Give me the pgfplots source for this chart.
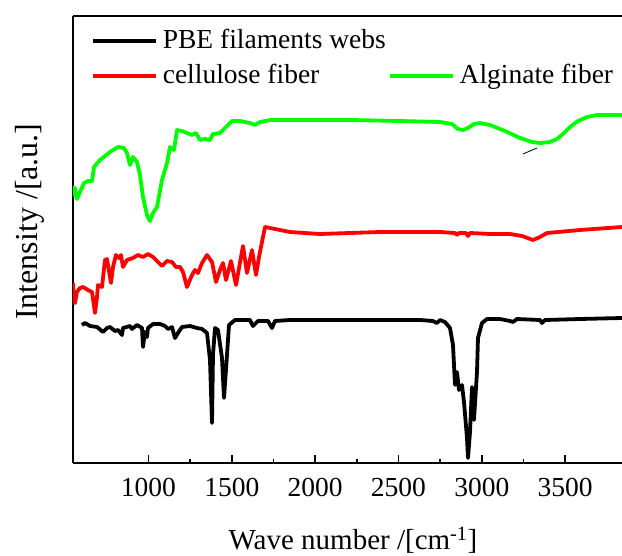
\documentclass[border=0pt]{standalone}
\usepackage{fontspec}
\setmainfont{Liberation Serif}
\usepackage{pgfplots}
\pgfplotsset{compat=1.18}
\definecolor{pure green}{RGB}{0,255,0}
\definecolor{pure red}{RGB}{255,0,0}
\begin{document}
\fontsize{27}{32}\selectfont
\begin{tikzpicture}
\useasboundingbox (-73pt,-92pt) rectangle (549pt,463pt);
\begin{axis}[
  at={(0pt,0pt)}, anchor=south west,
  scale only axis, width=549pt, height=447pt,
  xmin=547, xmax=3841, ymin=0, ymax=447,
  axis x line*=box, axis y line*=left,
  axis line style={-, line width=1.5pt},
  xtick={1000,1500,2000,2500,3000,3500},
  minor x tick num=1,
  xtick pos=left,
  ytick=\empty,
  tick align=inside,
  major tick length=8pt, minor tick length=4pt,
  every tick/.style={line width=1.5pt, black},
  /pgf/number format/assume math mode=true,
  /pgf/number format/1000 sep={},
  xticklabel style={font=\fontsize{27.5}{32}\selectfont, yshift=-6pt},
  xlabel={Wave number /[cm\textsuperscript{-1}]},
  ylabel={Intensity /[a.u.]},
  xlabel style={font=\fontsize{29}{34}\selectfont, at={(axis description cs:0.51,-0.172)}, anchor=center},
  ylabel style={font=\fontsize{32}{36}\selectfont, at={(axis description cs:-0.078,0.54)}, anchor=center},
  legend columns=2,
  legend cell align=left,
  legend image code/.code={\draw[#1] (0pt,0pt) -- (63pt,0pt);},
  legend style={draw=none, fill=none, at={(rel axis cs:0.027,0.982)}, anchor=north west,
    font=\fontsize{27.5}{32}\selectfont,
    nodes={inner sep=2pt, text height=20pt, text depth=6pt},
    row sep=5pt,
    /tikz/every odd column/.append style={column sep=3pt},
    /tikz/every even column/.append style={column sep=0pt}},
]
\addplot[black, line width=3.8pt, line join=round] table {
601 138
619 140
649 137
691 136
727 131
751 135
769 136
799 132
817 133
841 128
847 135
889 137
901 134
931 138
961 135
967 116
979 131
991 126
997 135
1027 139
1069 139
1099 137
1117 134
1141 136
1159 125
1177 130
1201 136
1249 137
1291 135
1321 134
1351 130
1369 103
1381 40
1387 108
1399 135
1417 133
1441 105
1453 65
1471 108
1483 138
1519 143
1609 143
1627 137
1657 142
1717 142
1741 135
1759 142
1849 143
2209 143
2629 143
2707 142
2731 140
2749 143
2779 141
2809 135
2827 118
2839 78
2851 91
2863 73
2881 78
2893 61
2911 25
2917 5
2929 31
2941 76
2953 43
2971 91
2977 125
3001 140
3031 144
3109 144
3169 142
3187 141
3211 144
3349 143
3361 140
3379 143
3589 144
3841 145
};
\addlegendentry{PBE filaments webs}
\addlegendimage{empty legend}
\addlegendentry{}
\addplot[pure red, line width=3.8pt, line join=round] table {
547 180
553 163
559 160
571 171
589 175
607 176
637 173
661 171
679 150
691 166
697 178
721 176
739 203
751 204
775 180
787 196
805 208
823 205
835 208
847 196
871 203
907 205
937 208
967 206
997 209
1027 206
1057 201
1081 197
1111 202
1141 201
1165 196
1189 196
1207 191
1231 176
1261 188
1279 193
1297 190
1321 200
1351 208
1381 201
1405 181
1429 193
1447 200
1465 183
1495 202
1525 178
1567 217
1591 190
1621 213
1645 188
1663 206
1699 236
1729 235
1849 231
2029 229
2389 231
2749 231
2839 230
2851 228
2863 230
2905 230
2917 227
2929 230
3049 229
3169 229
3241 227
3307 223
3349 226
3391 230
3589 233
3841 236
};
\addlegendentry{cellulose fiber}
\addplot[pure green, line width=3.8pt, line join=round] table {
547 277
553 268
559 275
571 264
589 271
613 280
637 282
661 282
673 296
709 303
769 311
817 316
853 315
871 310
889 298
907 306
931 301
949 288
967 266
991 248
1009 242
1027 250
1051 256
1081 283
1111 300
1129 316
1153 313
1171 333
1201 332
1231 330
1261 328
1285 330
1309 323
1339 324
1369 323
1387 329
1429 330
1471 337
1501 342
1549 342
1609 340
1639 338
1669 341
1729 343
1909 343
2209 343
2509 342
2749 341
2821 339
2857 334
2887 333
2917 335
2953 339
2989 340
3049 338
3139 332
3229 325
3301 321
3349 320
3409 321
3451 324
3487 329
3529 336
3577 342
3631 346
3691 348
3751 348
3841 348
};
\addlegendentry{Alginate fiber}
\draw[black, line width=0.8pt] (axis cs:3247,309) -- (axis cs:3331,315);
\end{axis}
\end{tikzpicture}
\end{document}
